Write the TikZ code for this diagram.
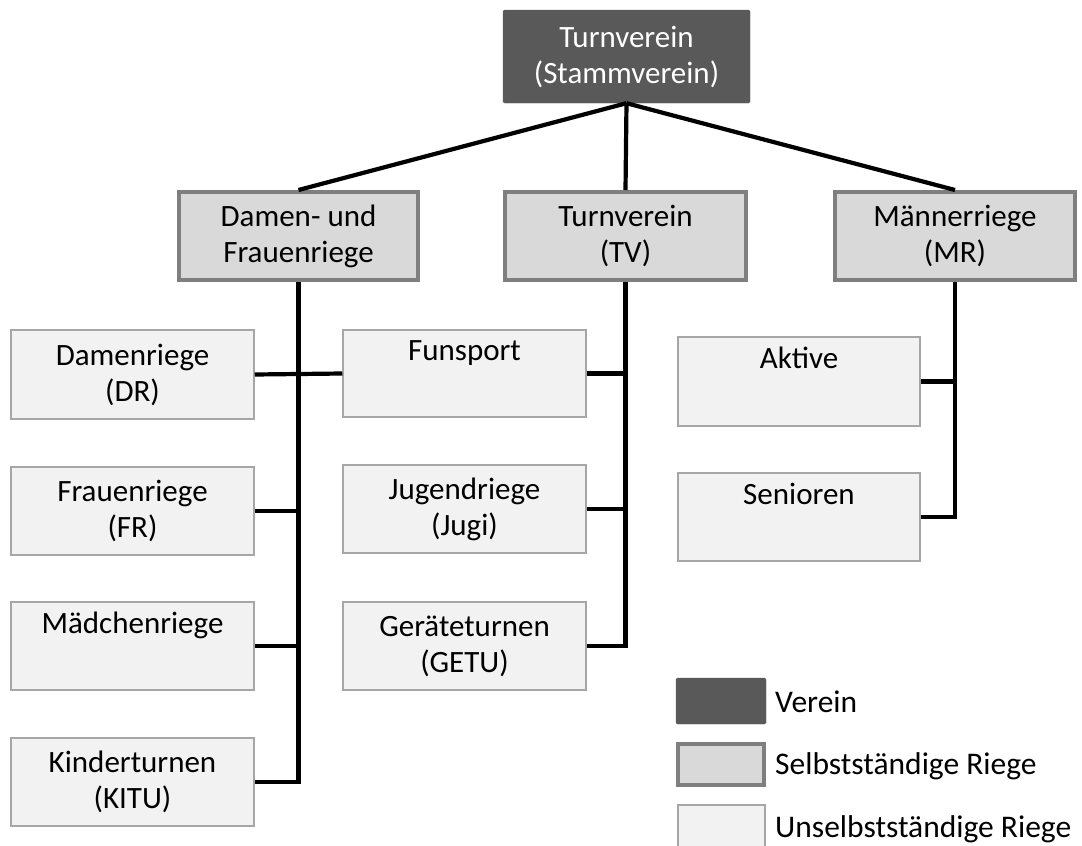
\documentclass[tikz,border=0pt]{standalone}
\usepackage{fontspec}
\setmainfont{Carlito}
\definecolor{vdark}{HTML}{595959}
\definecolor{smid}{HTML}{D9D9D9}
\definecolor{sborder}{HTML}{7F7F7F}
\definecolor{ulight}{HTML}{F2F2F2}
\definecolor{uborder}{HTML}{A6A6A6}
\tikzset{
  txt/.style={font=\fontsize{31}{36}\selectfont, align=center, inner sep=0pt},
  verein/.style={txt, fill=vdark, draw=vdark, text=white, rounded corners=1.5pt},
  selb/.style={txt, fill=smid, draw=sborder, line width=4pt},
  unselb/.style={txt, fill=ulight, draw=uborder, line width=1.5pt},
  conn/.style={line width=4.2pt, black},
  legtxt/.style={font=\fontsize{31.5}{36}\selectfont, anchor=west, inner sep=0pt}
}
\begin{document}
\begin{tikzpicture}[x=1pt,y=-1pt]
\clip (0,0) rectangle (1082,846);
\fill[white] (0,0) rectangle (1082,846);
% top
\node[verein, minimum width=247pt, minimum height=93pt] (top) at (626.5,56.5) {Turnverein\\(Stammverein)};
% middle level
\node[selb, minimum width=239pt, minimum height=88pt] (df) at (298.5,236) {Damen- und\\Frauenriege};
\node[selb, minimum width=241pt, minimum height=88pt] (tv) at (625.5,236) {Turnverein\\(TV)};
\node[selb, minimum width=240pt, minimum height=88pt] (mr) at (955,236) {Männerriege\\(MR)};
% left column
\node[unselb, minimum width=243pt, minimum height=89pt] (dr) at (132.5,374.5) {Damenriege\\(DR)};
\node[unselb, minimum width=243pt, minimum height=88pt] (fr) at (132.5,511) {Frauenriege\\(FR)};
\node[unselb, minimum width=243pt, minimum height=88pt] (ma) at (132.5,646) {Mädchenriege\\\strut};
\node[unselb, minimum width=243pt, minimum height=88pt] (ki) at (132.5,782) {Kinderturnen\\(KITU)};
% middle column
\node[unselb, minimum width=243pt, minimum height=87pt] (fu) at (464.5,373.5) {Funsport\\\strut};
\node[unselb, minimum width=243pt, minimum height=88pt] (ju) at (464.5,509) {Jugendriege\\(Jugi)};
\node[unselb, minimum width=243pt, minimum height=88pt] (ge) at (464.5,646) {Geräteturnen\\(GETU)};
% right column
\node[unselb, minimum width=242pt, minimum height=89pt] (ak) at (799,381.5) {Aktive\\\strut};
\node[unselb, minimum width=242pt, minimum height=88pt] (se) at (799,517) {Senioren\\\strut};
% connectors from top
\draw[conn] (top.south) -- (df.north);
\draw[conn] (top.south) -- (tv.north);
\draw[conn] (top.south) -- (mr.north);
% Damen- und Frauenriege branch
\draw[conn] (df.south) -- (df.south |- ki.east) -- (ki.east);
\draw[conn] (dr.east) -- (fu.west);
\draw[conn] (fr.east) -- (fr.east -| df.south);
\draw[conn] (ma.east) -- (ma.east -| df.south);
% Turnverein branch
\draw[conn] (tv.south) -- (tv.south |- ge.east) -- (ge.east);
\draw[conn] (fu.east) -- (fu.east -| tv.south);
\draw[conn] (ju.east) -- (ju.east -| tv.south);
% Maennerriege branch
\draw[conn] (mr.south) -- (mr.south |- se.east) -- (se.east);
\draw[conn] (ak.east) -- (ak.east -| mr.south);
% legend
\node[verein, minimum width=90pt, minimum height=46pt] (l1) at (721,701) {};
\node[selb, minimum width=86pt, minimum height=41pt] (l2) at (721,764.5) {};
\node[unselb, minimum width=87pt, minimum height=50pt] (l3) at (721.5,830) {};
\node[legtxt] (t1) at (775,702) {Verein};
\node[legtxt] (t2) at (775,766) {Selbstständige Riege};
\node[legtxt] (t3) at (775,829) {Unselbstständige Riege};
\end{tikzpicture}
\end{document}
